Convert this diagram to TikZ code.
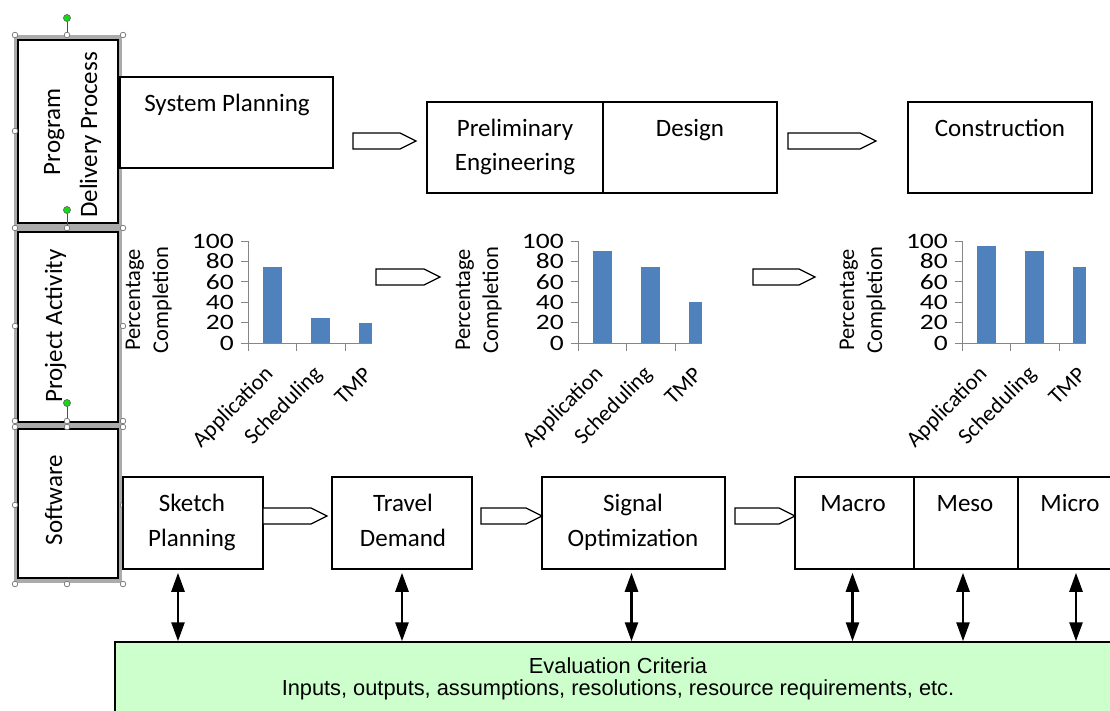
\documentclass[tikz,border=0pt]{standalone}
\usepackage{fontspec}
\usepackage{graphicx}
\setmainfont{Carlito}
\newfontfamily\arialfont{Liberation Sans}
\usetikzlibrary{arrows.meta,calc,fit}
\definecolor{barblue}{HTML}{4F81BD}
\definecolor{axisgray}{HTML}{868686}
\definecolor{evalgreen}{HTML}{CCFFCC}
\definecolor{handlegreen}{HTML}{11DD11}
\definecolor{selgray}{HTML}{ABABAB}

\newcommand\barrow[3]{%
  \draw[blockarrow] (#1,{#3-8}) -- ({#2-16},{#3-8}) -- (#2,#3) -- ({#2-16},{#3+8}) -- (#1,{#3+8}) -- cycle;}

\newcommand\pcchart[5]{%
  \fill[barblue] ({#2+15},343) rectangle ({#2+34},{343-1.02*#3});
  \fill[barblue] ({#2+63},343) rectangle ({#2+82},{343-1.02*#4});
  \fill[barblue] ({#2+111},343) rectangle ({#2+124},{343-1.02*#5});
  \draw[axisline] (#2,241) -- (#2,343);
  \draw[axisline] (#2,343) -- ({#2+124},343);
  \foreach \xx in {0,48.5,97} {\draw[axisline] ({#2+\xx},343) -- ({#2+\xx},351);}
  \foreach \v in {0,20,40,60,80,100} {
    \draw[axisline] ({#2-7},{343-1.02*\v}) -- (#2,{343-1.02*\v});
    \node[ticklbl] (#1t\v) at ({#2-14},{343-1.02*\v}) {\scalebox{1.25}[1]{\v}};
  }
  \node[catlbl] (#1a) at ({#2+22},371) {Application};
  \node[catlbl] (#1s) at ({#2+71},371) {Scheduling};
  \node[catlbl] (#1m) at ({#2+120},371) {TMP};
  \node[ylbl] (#1y1) at ({#2-108},300) {Percentage};
  \node[ylbl] (#1y2) at ({#2-80},300) {Completion};
}

\begin{document}
\begin{tikzpicture}[x=1pt,y=-1pt,
  box/.style={draw=black, line width=1.5pt, inner sep=0pt, fill=white},
  txt/.style={font=\fontsize{25}{30}\selectfont, inner sep=0pt, anchor=base},
  rtxt/.style={font=\fontsize{25}{30}\selectfont, inner sep=0pt, anchor=base, rotate=90},
  ticklbl/.style={font=\fontsize{22}{26}\selectfont, inner sep=0pt, anchor=east},
  catlbl/.style={font=\fontsize{22.5}{26}\selectfont, inner sep=0pt, anchor=east, rotate=45},
  ylbl/.style={font=\fontsize{22.5}{26}\selectfont, inner sep=0pt, anchor=base, rotate=90},
  axisline/.style={draw=axisgray, line width=1pt},
  blockarrow/.style={draw=black, line width=1.3pt, fill=white, line join=miter},
  selframe/.style={draw=selgray, line width=4.5pt},
  handle/.style={draw=black!55, fill=white, line width=0.7pt},
  rothandle/.style={draw=black!60, fill=handlegreen, line width=0.7pt},
  dbl/.style={line width=2.6pt, {Triangle[length=19pt,width=13pt]}-{Triangle[length=19pt,width=13pt]}},
  evaltxt/.style={font=\arialfont\fontsize{21.8}{25}\selectfont, inner sep=0pt, anchor=base}
]
\useasboundingbox (0,0) rectangle (1110,710);
\fill[white] (0,0) rectangle (1110,710);

% ---------- left label column (selected shapes) ----------
\draw[selframe] (16,37) rectangle (120,226);
\draw[selframe] (16,230) rectangle (120,423);
\draw[selframe] (16,427) rectangle (120,581);
\node[box, line width=1.8pt, fit={(18,40) (118,223)}] (pdp) {};
\node[box, line width=1.8pt, fit={(18,232) (118,422)}] (pa) {};
\node[box, line width=1.8pt, fit={(18,429) (118,578)}] (sw) {};
\node[rtxt] (pdp1) at (60,132) {Program};
\node[rtxt] (pdp2) at (97,135) {Delivery Process};
\node[rtxt] (pa1) at (62,326) {Project Activity};
\node[rtxt] (sw1) at (62,500) {Software};
% rotation handles
\draw[black!70, line width=0.8pt] (67,18) -- (67,35);
\draw[black!70, line width=0.8pt] (67,210) -- (67,228);
\draw[black!70, line width=0.8pt] (67,403) -- (67,421);
\draw[rothandle] (67,18) circle (3.5);
\draw[rothandle] (67,210) circle (3.5);
\draw[rothandle] (67,403) circle (3.5);
% sizing handles
\foreach \p in {(15,35),(67,35),(123,35),(15,131),(123,131),(15,228),(67,228),(123,228),
                (15,326),(123,326),(15,421),(67,421),(123,421),
                (15,427),(67,427),(123,427),(15,505),(123,505),(15,584),(67,584),(123,584)}
  {\draw[handle] \p circle (2.8);}

% ---------- top row: program delivery process ----------
\node[box, fit={(120,77) (333,168)}] (sp) {};
\node[txt] (sptxt) at (227,111) {System Planning};
\node[box, fit={(427,102) (603,193)}] (pe) {};
\node[box, fit={(603,102) (777,193)}] (de) {};
\node[txt] (pe1) at (515,136) {Preliminary};
\node[txt] (pe2) at (515,170) {Engineering};
\node[txt] (detxt) at (690,136) {Design};
\node[box, fit={(908,102) (1092,193)}] (co) {};
\node[txt] (cotxt) at (1000,136) {Construction};
\barrow{353}{416}{141}
\barrow{788}{876}{141}

% ---------- middle row: charts ----------
\pcchart{ca}{248}{75}{25}{20}
\pcchart{cb}{578}{90}{75}{40}
\pcchart{cc}{962}{95}{90}{75}
\barrow{376}{440}{277}
\barrow{753}{815}{277}

% ---------- bottom row: software ----------
\node[box, fit={(123,477) (263,569)}] (sk) {};
\node[txt] (sk1) at (192,511) {Sketch};
\node[txt] (sk2) at (192,546) {Planning};
\node[box, fit={(332,477) (472,569)}] (td) {};
\node[txt] (td1) at (403,511) {Travel};
\node[txt] (td2) at (403,546) {Demand};
\node[box, fit={(542,477) (725,569)}] (so) {};
\node[txt] (so1) at (633,511) {Signal};
\node[txt] (so2) at (633,546) {Optimization};
\node[box, fit={(795,477) (914,569)}] (ma) {};
\node[box, fit={(914,477) (1018,569)}] (me) {};
\node[box, fit={(1018,477) (1140,569)}] (mi) {};
\node[txt] (matxt) at (853,511) {Macro};
\node[txt] (metxt) at (965,511) {Meso};
\node[txt] (mitxt) at (1070,511) {Micro};
\barrow{263}{327}{516}
\barrow{481}{542}{516}
\barrow{735}{795}{516}

% ---------- evaluation criteria ----------
\node[box, fill=evalgreen, fit={(115,642) (1130,730)}] (ev) {};
\node[evaltxt] (ev1) at (618,673) {Evaluation Criteria};
\node[evaltxt] (ev2) at (618,695) {Inputs, outputs, assumptions, resolutions, resource requirements, etc.};

\draw[dbl, shorten <=3pt] ([xshift=-15pt]sk.south) -- ([xshift=-15pt]sk.south |- ev.north);
\draw[dbl, shorten <=3pt] (td.south) -- (td.south |- ev.north);
\draw[dbl, shorten <=3pt] ([xshift=-2pt]so.south) -- ([xshift=-2pt]so.south |- ev.north);
\draw[dbl, shorten <=3pt] ([xshift=-2pt]ma.south) -- ([xshift=-2pt]ma.south |- ev.north);
\draw[dbl, shorten <=3pt] ([xshift=-3pt]me.south) -- ([xshift=-3pt]me.south |- ev.north);
\draw[dbl, shorten <=3pt] ([xshift=-3pt]mi.south) -- ([xshift=-3pt]mi.south |- ev.north);
\end{tikzpicture}
\end{document}
